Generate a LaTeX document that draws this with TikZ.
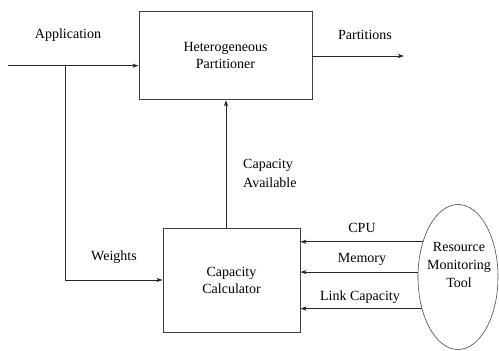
\documentclass[tikz,border=0pt]{standalone}
\usepackage{fontspec}
\newfontfamily\diagfont{Liberation Serif}
\usetikzlibrary{arrows.meta,shapes.geometric}
\begin{document}
\begin{tikzpicture}[x=1pt,y=-1pt,
  font=\diagfont\fontsize{14}{16}\selectfont,
  blk/.style={draw=black!75,line width=0.9pt,align=center,inner sep=0pt},
  flow/.style={draw=black!85,line width=0.8pt,-{Stealth[length=6pt,width=4pt,inset=1.5pt]}},
  lbl/.style={inner sep=0pt,align=center}]
\useasboundingbox (0,0) rectangle (499,351);

% processing blocks
\node[blk,minimum width=173pt,minimum height=88pt] (part) at (225.5,55.8) {Heterogeneous\\[1pt]Partitioner};
\node[blk,minimum width=137pt,minimum height=104pt] (calc) at (231.5,280) {Capacity\\[1pt]Calculator};
\node[ellipse,draw=black!70,line width=0.6pt,minimum width=80pt,minimum height=145pt,inner sep=0pt,align=center] (res) at (458,277) {};
\node[lbl] (restxt) at (459,265) {Resource\\[2pt]Monitoring\\[2pt]Tool};

% input and output
\coordinate (appin) at (8,65.7);
\coordinate (split) at (65,65.7);
\coordinate (partout) at (404,56);
\draw[flow] (appin) -- (appin -| part.west);
\draw[flow] (part.east |- partout) -- (partout);
\node[lbl] (applbl) at (68,35) {Application};
\node[lbl] (partlbl) at (365,35) {Partitions};

% weights branch
\draw[flow] (split) |- (calc.west);
\node[lbl] (wlbl) at (114,257) {Weights};

% capacity feedback
\coordinate (capx) at (226,0);
\draw[flow] (calc.north -| capx) -- (part.south -| capx);
\node[lbl,align=left,anchor=west] (caplbl) at (243,173) {Capacity\\[3pt]Available};

% resource measurements
\draw[flow] (res.135) -- (res.135 -| calc.east);
\draw[flow] (res.173) -- (res.173 -| calc.east);
\draw[flow] (res.221.6) -- (res.221.6 -| calc.east);
\node[lbl] (cpulbl) at (362,228) {CPU};
\node[lbl] (memlbl) at (362,259) {Memory};
\node[lbl] (linklbl) at (360,297) {Link Capacity};
\end{tikzpicture}
\end{document}
